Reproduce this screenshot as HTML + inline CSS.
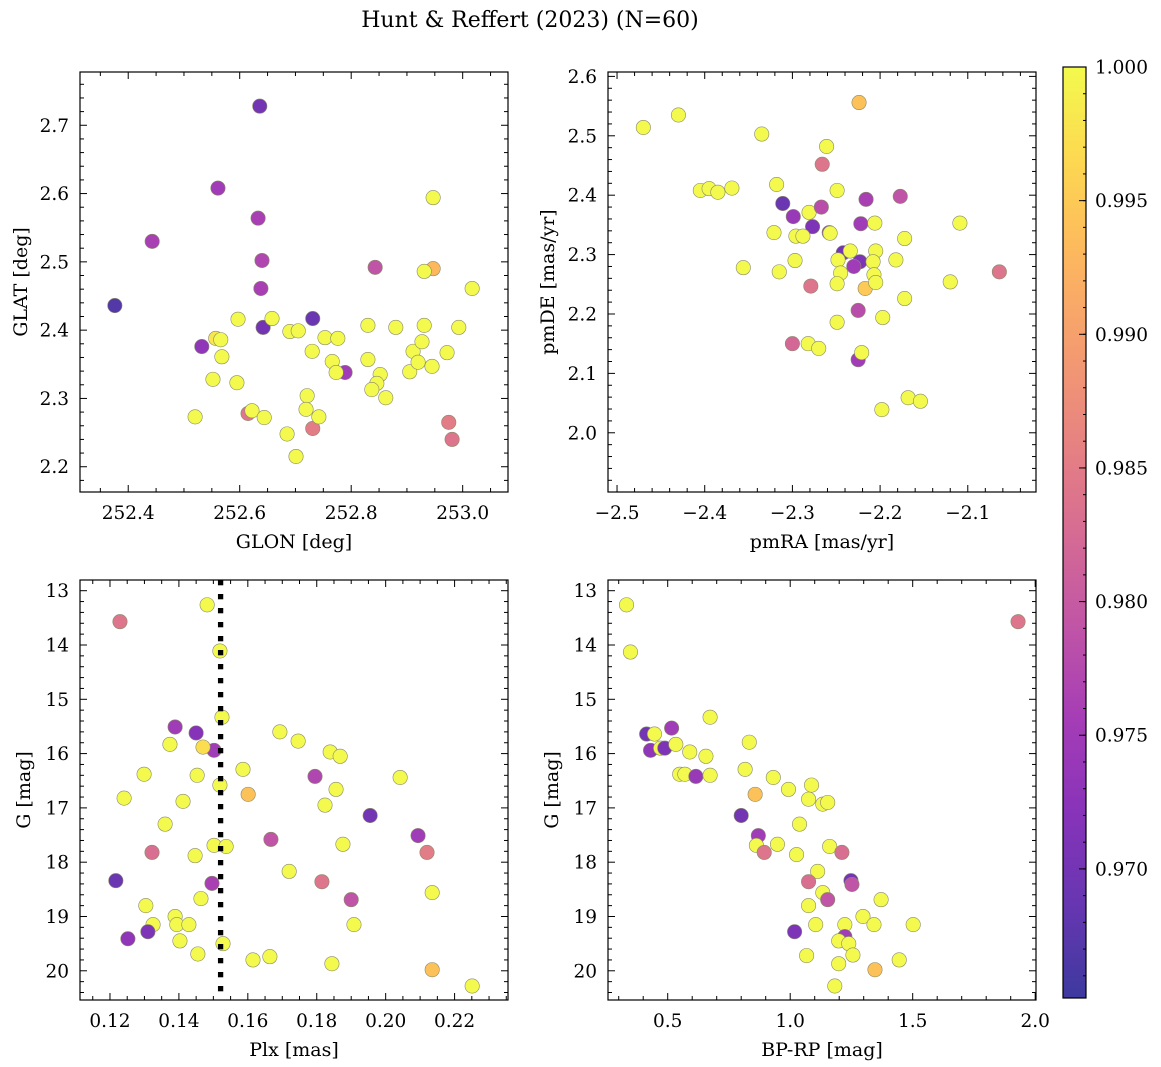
<!DOCTYPE html>
<html><head><meta charset="utf-8"><style>
html,body{margin:0;padding:0;background:#fff;}
svg{display:block;font-family:"DejaVu Serif","Liberation Serif",serif;}
</style></head><body>
<svg id="fig" width="1161" height="1067" viewBox="0 0 1161 1067">
<text x="530" y="27" text-anchor="middle" font-size="22">Hunt &amp; Reffert (2023) (N=60)</text>
</svg>
<script>
// Panel 1: GLON vs GLAT
const glonVals=[252.636,252.561,252.443,252.633,252.640,252.638,252.376,252.642,252.731,252.532,252.843,252.789,252.615,252.731,252.975,252.981,252.947,252.557,252.947,252.931,253.017,252.597,252.658,252.566,252.568,252.552,252.595,252.520,252.622,252.644,252.690,252.705,252.730,252.753,252.776,252.766,252.773,252.721,252.719,252.742,252.685,252.701,252.830,252.830,252.852,252.846,252.837,252.862,252.880,252.931,252.911,252.905,252.920,252.927,252.945,252.972,252.993];
const glatVals=[2.728,2.608,2.530,2.564,2.502,2.461,2.436,2.404,2.417,2.376,2.492,2.338,2.278,2.256,2.265,2.240,2.490,2.388,2.594,2.486,2.461,2.416,2.417,2.386,2.361,2.328,2.323,2.273,2.282,2.272,2.398,2.399,2.369,2.389,2.388,2.354,2.338,2.304,2.284,2.273,2.248,2.215,2.407,2.357,2.335,2.322,2.313,2.301,2.404,2.407,2.369,2.339,2.353,2.383,2.347,2.367,2.404];
const probA=[0.970,0.975,0.976,0.976,0.977,0.976,0.967,0.970,0.969,0.973,0.979,0.975,0.984,0.985,0.985,0.984,0.993,0.998,1,1,1,1,1,1,1,1,1,1,1,1,1,1,1,1,1,1,1,1,1,1,1,1,1,1,1,1,1,1,1,1,1,1,1,1,1,1,1];
// Panel 2: pmRA vs pmDE
const pmraVals=[-2.470,-2.430,-2.335,-2.224,-2.261,-2.266,-2.405,-2.395,-2.385,-2.369,-2.318,-2.311,-2.249,-2.216,-2.177,-2.299,-2.281,-2.267,-2.258,-2.277,-2.257,-2.296,-2.288,-2.321,-2.222,-2.206,-2.109,-2.172,-2.242,-2.234,-2.205,-2.248,-2.297,-2.223,-2.208,-2.182,-2.207,-2.245,-2.315,-2.356,-2.230,-2.249,-2.217,-2.205,-2.120,-2.279,-2.172,-2.064,-2.225,-2.249,-2.197,-2.282,-2.300,-2.270,-2.225,-2.221,-2.168,-2.154,-2.198];
const pmdeVals=[2.514,2.535,2.503,2.556,2.482,2.452,2.408,2.411,2.405,2.412,2.418,2.386,2.408,2.393,2.398,2.364,2.371,2.380,2.337,2.347,2.336,2.331,2.331,2.337,2.352,2.353,2.353,2.327,2.303,2.306,2.306,2.291,2.290,2.288,2.288,2.291,2.266,2.269,2.271,2.278,2.280,2.251,2.243,2.253,2.254,2.247,2.226,2.271,2.206,2.186,2.194,2.150,2.150,2.142,2.123,2.135,2.059,2.053,2.039];
const probB=[1,1,1,0.994,1,0.984,1,1,1,1,1,0.969,1,0.976,0.979,0.974,1,0.978,0.973,0.971,1,1,1,1,0.975,1,1,1,0.970,1,1,1,1,0.971,1,1,1,1,1,1,0.975,1,0.995,1,1,0.984,1,0.984,0.978,1,1,1,0.982,1,0.975,1,1,1,1];
// Panel 3: Plx vs G
const plxVals=[0.1229,0.1482,0.1519,0.1525,0.1389,0.1450,0.1502,0.1374,0.1470,0.1299,0.1453,0.1241,0.1519,0.1586,0.1601,0.1412,0.1360,0.1322,0.1447,0.1502,0.1537,0.1693,0.1746,0.1795,0.1839,0.1868,0.1856,0.1824,0.1876,0.1955,0.2042,0.2094,0.2120,0.1667,0.1720,0.1815,0.1900,0.1908,0.2135,0.1217,0.1496,0.1464,0.1304,0.1389,0.1394,0.1325,0.1310,0.1429,0.1403,0.1252,0.1455,0.1528,0.1615,0.1664,0.1844,0.2135,0.2251];
const gPlxVals=[13.57,13.26,14.11,15.33,15.51,15.62,15.94,15.83,15.88,16.38,16.40,16.82,16.58,16.29,16.75,16.88,17.30,17.82,17.88,17.69,17.71,15.60,15.77,16.42,15.97,16.05,16.66,16.95,17.67,17.14,16.44,17.51,17.82,17.58,18.17,18.36,18.69,19.15,18.56,18.34,18.39,18.67,18.80,19.00,19.15,19.15,19.28,19.15,19.45,19.41,19.69,19.50,19.80,19.74,19.87,19.98,20.28];
const probC=[0.984,1,1,1,0.975,0.972,0.975,1,0.997,1,1,1,1,1,0.994,1,1,0.983,1,1,1,1,1,0.977,1,1,1,1,1,0.970,1,0.975,0.985,0.979,1,0.984,0.979,1,1,0.969,0.976,1,1,1,1,1,0.971,1,1,0.973,1,1,1,1,1,0.994,1];
const plxCut=0.1521;
// Panel 4: BP-RP vs G
const bprpVals=[0.332,0.348,1.930,0.414,0.430,0.446,0.471,0.488,0.516,0.533,0.549,0.570,0.590,0.615,0.656,0.673,0.673,0.833,0.816,0.857,0.800,0.931,0.993,1.087,1.075,1.133,1.153,1.038,0.870,0.862,0.948,0.894,1.026,1.161,1.211,1.112,1.075,1.248,1.252,1.133,1.371,1.153,1.075,1.297,1.342,1.502,1.104,1.223,1.018,1.223,1.198,1.239,1.256,1.067,1.198,1.445,1.346,1.182];
const gColVals=[13.26,14.13,13.57,15.64,15.94,15.64,15.90,15.90,15.53,15.83,16.38,16.38,15.97,16.42,16.05,15.33,16.40,15.79,16.29,16.75,17.14,16.44,16.66,16.58,16.84,16.93,16.90,17.30,17.51,17.69,17.67,17.82,17.86,17.71,17.82,18.17,18.36,18.34,18.41,18.56,18.69,18.69,18.80,19.00,19.15,19.15,19.15,19.15,19.28,19.37,19.45,19.50,19.71,19.72,19.87,19.80,19.98,20.28];
const probD=[1,1,0.984,0.970,0.973,1,1,0.971,0.975,1,1,1,1,0.974,1,1,1,1,1,0.994,0.970,1,1,1,1,1,1,1,0.975,1,1,0.984,1,1,0.983,1,0.983,0.970,0.979,1,1,0.979,1,1,1,1,1,1,0.971,0.975,1,1,1,1,1,1,0.994,1];
const cbTicks=[0.970,0.975,0.980,0.985,0.990,0.995,1.000];

const NS='http://www.w3.org/2000/svg';
const svg=document.getElementById('fig');
const VMIN=0.96517,VMAX=1.0;
const stops=[[13,8,135],[65,4,157],[106,0,168],[143,13,164],[177,42,144],[204,71,120],[225,100,98],[242,132,75],[252,166,54],[252,206,37],[240,249,33]];
function plasma(t){t=Math.max(0,Math.min(1,t));const f=t*10,i=Math.min(9,Math.floor(f)),u=f-i;const a=stops[i],b=stops[i+1];
 const c=[0,1,2].map(k=>Math.round((a[k]+(b[k]-a[k])*u)*0.8+255*0.2));return `rgb(${c[0]},${c[1]},${c[2]})`;}
function mk(tag,attrs,parent){const e=document.createElementNS(NS,tag);for(const k in attrs)e.setAttribute(k,attrs[k]);(parent||svg).appendChild(e);return e;}
function fmt(v,d){return v.toFixed(d).replace('-','\u2212');}

function panel(o){
 const g=mk('g',{});
 
 
 const sx=v=>o.x0+(v-o.xmin)/(o.xmax-o.xmin)*(o.x1-o.x0);
 const sy=o.yinv?v=>o.y0+(v-o.ymin)/(o.ymax-o.ymin)*(o.y1-o.y0):v=>o.y1-(v-o.ymin)/(o.ymax-o.ymin)*(o.y1-o.y0);
 for(let i=0;i<o.xs.length;i++){
  const c=mk('circle',{cx:sx(o.xs[i]),cy:sy(o.ys[i]),r:7.2,fill:plasma((o.ps[i]-VMIN)/(VMAX-VMIN)),stroke:'#8a8a6a','stroke-width':0.6},g);
  
  
 }
 if(o.vline!==undefined){
  const lg2=mk('g',{fill:'#000'},g);
  
  
  const X=sx(o.vline);
  for(let y=o.y0;y<o.y1;y+=14){
   mk('rect',{x:X-2.65,y:y,width:5.3,height:Math.min(5.3,o.y1-y)},lg2);
  }
 }
 const fr=mk('rect',{x:o.x0,y:o.y0,width:o.x1-o.x0,height:o.y1-o.y0,fill:'none',stroke:'#000','stroke-width':1.2},g);
 
 
 const eps=1e-9;
 for(let v=Math.ceil(o.xmin/o.xminor-eps)*o.xminor;v<=o.xmax+eps;v+=o.xminor){
  const isMaj=Math.abs(v/o.xmajor-Math.round(v/o.xmajor))<1e-6;const len=isMaj?7:4;const X=sx(v);
  mk('line',{x1:X,x2:X,y1:o.y1,y2:o.y1-len,stroke:'#000','stroke-width':1},g);
  mk('line',{x1:X,x2:X,y1:o.y0,y2:o.y0+len,stroke:'#000','stroke-width':1},g);
  if(isMaj){const t=mk('text',{x:X,y:o.y1+27,'text-anchor':'middle','font-size':18.5},g);t.textContent=fmt(v,o.xdec);
   }
 }
 for(let v=Math.ceil(o.ymin/o.yminor-eps)*o.yminor;v<=o.ymax+eps;v+=o.yminor){
  const isMaj=Math.abs(v/o.ymajor-Math.round(v/o.ymajor))<1e-6;const len=isMaj?7:4;const Y=sy(v);
  mk('line',{x1:o.x0,x2:o.x0+len,y1:Y,y2:Y,stroke:'#000','stroke-width':1},g);
  mk('line',{x1:o.x1,x2:o.x1-len,y1:Y,y2:Y,stroke:'#000','stroke-width':1},g);
  if(isMaj){const t=mk('text',{x:o.x0-11,y:Y+6.5,'text-anchor':'end','font-size':18.5},g);t.textContent=fmt(v,o.ydec);
   }
 }
 const xl=mk('text',{x:(o.x0+o.x1)/2,y:o.y1+56,'text-anchor':'middle','font-size':19},g);xl.textContent=o.xlabel;
 
 const ly=(o.y0+o.y1)/2;
 const yl=mk('text',{x:o.ylx,y:ly,'text-anchor':'middle','font-size':19,transform:`rotate(-90 ${o.ylx} ${ly})`},g);yl.textContent=o.ylabel;
 
}

panel({name:'glon-glat-panel',x0:80,x1:508,y0:72,y1:492,xmin:252.3135,xmax:253.0813,ymin:2.163,ymax:2.778,xmajor:0.2,xminor:0.05,ymajor:0.1,yminor:0.02,xdec:1,ydec:1,xs:glonVals,ys:glatVals,ps:probA,xlabel:'GLON [deg]',ylabel:'GLAT [deg]',ylx:27});
panel({name:'pm-panel',x0:608,x1:1036,y0:72,y1:492,xmin:-2.5103,xmax:-2.0222,ymin:1.9003,ymax:2.6074,xmajor:0.1,xminor:0.02,ymajor:0.1,yminor:0.02,xdec:1,ydec:1,xs:pmraVals,ys:pmdeVals,ps:probB,xlabel:'pmRA [mas/yr]',ylabel:'pmDE [mas/yr]',ylx:554});
panel({name:'plx-g-panel',x0:80,x1:508,y0:580,y1:1000,xmin:0.1113,xmax:0.2355,ymin:12.803,ymax:20.538,yinv:true,xmajor:0.02,xminor:0.005,ymajor:1,yminor:0.2,xdec:2,ydec:0,xs:plxVals,ys:gPlxVals,ps:probC,xlabel:'Plx [mas]',ylabel:'G [mag]',ylx:30,vline:plxCut});
panel({name:'cmd-panel',x0:608,x1:1036,y0:580,y1:1000,xmin:0.2563,xmax:2.0033,ymin:12.803,ymax:20.538,yinv:true,xmajor:0.5,xminor:0.1,ymajor:1,yminor:0.2,xdec:1,ydec:0,xs:bprpVals,ys:gColVals,ps:probD,xlabel:'BP-RP [mag]',ylabel:'G [mag]',ylx:558});

const cb=mk('g',{});


const defs=mk('defs',{},cb);
const lg=mk('linearGradient',{id:'cbg',x1:0,y1:1,x2:0,y2:0},defs);
for(let i=0;i<=20;i++){mk('stop',{offset:i/20,'stop-color':plasma(i/20)},lg);}
const cbX0=1063,cbX1=1086,cbY0=67,cbY1=998;
mk('rect',{x:cbX0,y:cbY0,width:cbX1-cbX0,height:cbY1-cbY0,fill:'url(#cbg)',stroke:'#000','stroke-width':1.2},cb);
const cy=v=>cbY1-(v-VMIN)/(VMAX-VMIN)*(cbY1-cbY0);
for(let v=0.966;v<=1.00001;v+=0.001){const Y=cy(v);mk('line',{x1:cbX1,x2:cbX1-3,y1:Y,y2:Y,stroke:'#000','stroke-width':1},cb);}
cbTicks.forEach(v=>{const Y=cy(v);mk('line',{x1:cbX1,x2:cbX1-7,y1:Y,y2:Y,stroke:'#000','stroke-width':1},cb);
 const t=mk('text',{x:cbX1+9,y:Y+6.5,'font-size':18.5},cb);t.textContent=v.toFixed(3);
 
 });
</script>
</body></html>
